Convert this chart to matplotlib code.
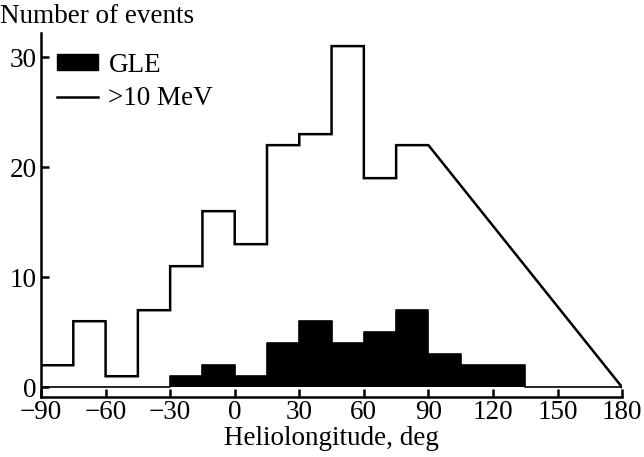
import numpy as np
import matplotlib.pyplot as plt
from matplotlib.patches import Patch
from matplotlib.lines import Line2D

plt.rcParams["font.family"] = ["Liberation Serif", "DejaVu Serif"]

# bin edges, 15 deg wide
edges = [-90, -75, -60, -45, -30, -15, 0, 15, 30, 45, 60, 75, 90, 105, 120, 135, 150, 165, 180]
gle = [0, 0, 0, 0, 1, 2, 1, 4, 6, 4, 5, 7, 3, 2, 2, 0, 0, 0]
mev10 = [2, 6, 1, 7, 11, 16, 13, 22, 23, 31, 19, 22]
# straight line from the last bin to 180
tail_x = [90, 180]
tail_y = [22, 0]

fs = 19.5

fig = plt.figure(figsize=(6.44, 4.57), dpi=100)
ax = fig.add_axes([0.0637, 0.131, 0.9023, 0.797])

# GLE: filled step histogram
gx = np.repeat(edges, 2)[1:-1]
gy = np.repeat(gle, 2)
ax.fill_between(gx, 0, gy, color="black", linewidth=0)
ax.plot(gx, gy, color="black", linewidth=1.2)

# >10 MeV: step outline
mx = np.repeat(edges[:len(mev10) + 1], 2)[1:-1]
my = np.repeat(mev10, 2)
ax.plot(list(mx) + tail_x[1:], list(my) + tail_y[1:], color="black", linewidth=1.8,
        solid_joinstyle="miter")

ax.set_xlim(-90, 180)
ax.set_ylim(-0.9, 32.2)
ax.set_xticks(range(-90, 181, 30))
ax.set_xticklabels([str(t).replace("-", "\u2212") for t in range(-90, 181, 30)])
ax.set_yticks([0, 10, 20, 30])
ax.spines["top"].set_visible(False)
ax.spines["right"].set_visible(False)
for s in ["left", "bottom"]:
    ax.spines[s].set_linewidth(1.8)
ax.tick_params(direction="in", length=5.5, width=1.8, labelsize=fs)
ax.tick_params(axis="x", pad=2)
ax.tick_params(axis="y", pad=3)

ax.set_xlabel("Heliolongitude, deg", fontsize=fs, labelpad=1)
fig.text(0.0, 0.963, "Number of events", fontsize=fs, va="center", ha="left")

handles = [Patch(facecolor="black", edgecolor="black"),
           Line2D([0], [0], color="black", linewidth=1.8)]
ax.legend(handles, ["GLE", ">10 MeV"], loc="upper left", bbox_to_anchor=(0.0275, 0.946),
          frameon=False, fontsize=fs, handlelength=1.5, handleheight=0.5,
          handletextpad=0.4, labelspacing=0.32, borderaxespad=0, borderpad=0)

fig.savefig("out.png", dpi=100)
